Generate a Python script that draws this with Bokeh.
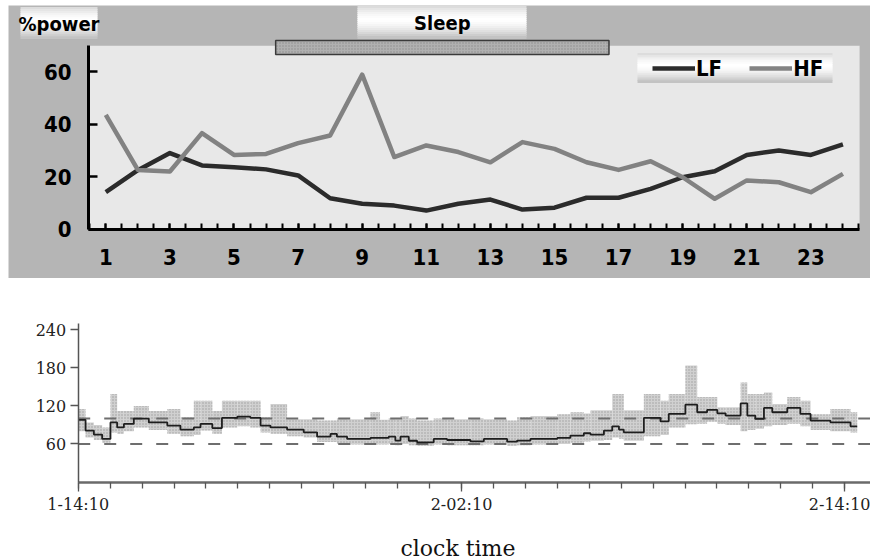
from bokeh.plotting import figure
from bokeh.layouts import column
from bokeh.models import (Range1d, FixedTicker, BoxAnnotation, Label, Legend,
                          LegendItem, ColumnDataSource)
from bokeh.embed import file_html
from bokeh.resources import INLINE

# ---------------- upper panel: %power of LF / HF by hour ----------------
hours = list(range(1, 25))
lf_power = [14.2, 22.6, 29.1, 24.4, 23.7, 22.9, 20.6, 11.9, 9.8, 9.1, 7.2, 9.8,
            11.4, 7.6, 8.3, 12.1, 12.1, 15.5, 19.9, 22.2, 28.4, 30.1, 28.4, 32.4]
hf_power = [43.7, 22.7, 22.1, 36.7, 28.4, 28.8, 32.9, 35.8, 59.0, 27.6, 32.0, 29.5,
            25.6, 33.3, 30.7, 25.6, 22.7, 26.0, 19.9, 11.7, 18.7, 18.0, 14.2, 21.2]
hour_labels = list(range(1, 24, 2))
power_ticks = [0, 20, 40, 60]
sleep_start, sleep_end = 6.3, 16.7

# ---------------- lower panel: heart rate over clock time ----------------
# segment start (hours after 1-14:10), level, lower and upper extent
seg_start = [0.00, 0.23, 0.49, 0.75, 1.01, 1.22, 1.43, 1.74, 2.21, 2.79, 3.20, 3.62,
             3.83, 4.20, 4.50, 4.98, 5.39, 5.71, 6.02, 6.54, 7.06, 7.48, 7.90, 8.10,
             8.42, 9.15, 9.45, 9.72, 9.93, 10.09, 10.35, 10.61, 11.13, 11.55, 12.28,
             12.70, 13.43, 13.74, 14.16, 15.00, 15.41, 15.83, 16.04, 16.46, 16.72,
             16.93, 17.08, 17.71, 18.23, 18.49, 19.01, 19.38, 19.69, 20.01, 20.27,
             20.74, 20.95, 21.20, 21.47, 21.73, 22.20, 22.61, 22.93, 23.55, 24.18]
seg_end = 24.39
hr_level = [98, 81, 74.7, 67.8, 94, 86, 91.5, 100, 94, 89, 82.6, 86,
            91.5, 85, 101, 103, 101, 89, 86, 82.6, 78.3, 71.5, 75.7, 71.5,
            67.8, 69.4, 69.4, 71.5, 65.2, 71.5, 65, 62.5, 67.8, 66.2, 64.1,
            67.8, 63.6, 65.2, 67.8, 69.4, 73.1, 76.8, 74.7, 81, 87.8,
            82.6, 78.3, 101, 95.7, 107.3, 122, 110, 113.6, 108.3, 104.7,
            124, 104.7, 99.4, 116.8, 110, 116.8, 107.3, 96.8, 94.1, 87.8]
hr_low = [80, 70, 66, 62, 78, 76, 80, 86, 82, 76, 72, 74,
          81, 76, 86, 88, 86, 78, 76, 72, 70, 63, 63, 60,
          59, 59, 59, 60, 58, 60, 58, 57, 59, 58, 58,
          59, 57, 58, 59, 60, 62, 64, 65, 66, 70,
          68, 65, 72, 74, 86, 91, 92, 95, 92, 90,
          80, 82, 84, 88, 90, 92, 88, 82, 80, 78]
hr_high = [115, 94, 90, 86, 139, 112, 112, 120, 112, 115, 102, 128,
           128, 112, 128, 128, 128, 102, 123, 99, 99, 97, 97, 100,
           99, 110, 98, 100, 99, 104, 100, 97, 100, 99, 100,
           99, 97, 102, 104, 107, 110, 108, 113, 113, 139,
           139, 113, 139, 128, 139, 184, 134, 134, 118, 118,
           157, 139, 139, 141, 123, 134, 128, 107, 115, 110]
ref_levels = [60, 100]
hr_ticks = [60, 120, 180, 240]
time_ticks = [0, 12, 24]
time_labels = ["1-14:10", "2-02:10", "2-14:10"]

SANS = "DejaVu Sans Condensed, Liberation Sans"
SERIF = "DejaVu Serif"
PANEL_GREY = "#b5b5b5"

# ======================= upper figure =======================
# the frame covers the whole grey panel; axes sit at fixed data positions
X0, X1 = 0.46, 24.52          # extent of the light plotting area
top = figure(width=862, height=273, output_backend="svg", toolbar_location=None,
             x_range=Range1d(-2.036, 24.86), y_range=Range1d(-18.67, 85.33),
             min_border_left=0, min_border_right=0, min_border_top=0,
             min_border_bottom=0, margin=(5, 0, 0, 8))
top.background_fill_color = PANEL_GREY
top.border_fill_color = PANEL_GREY
top.outline_line_color = None
top.grid.visible = False

top.add_layout(BoxAnnotation(left=X0, right=X1, bottom=0, top=70,
                             fill_color="#e8e8e8", fill_alpha=1,
                             line_color=None, level="underlay"))

FL, FB = 8, 278   # frame left / bottom on the page


def bevel_box(fig, x0, y0, x1, y1, n=16):
    """Shaded label plate; corners given in page pixels."""
    h = (y1 - y0) / n
    for i in range(n):
        t = (i + 0.5) / n
        d = abs(t - 0.42) / 0.58
        g = int(round(255 - 66 * d ** 1.6))
        fig.add_layout(BoxAnnotation(
            left=x0 - FL, right=x1 - FL,
            top=FB - (y0 + i * h) + 0.4, bottom=FB - (y0 + (i + 1) * h) - 0.4,
            left_units="screen", right_units="screen",
            top_units="screen", bottom_units="screen",
            fill_color="#%02x%02x%02x" % (g, g, g), fill_alpha=1, line_color=None))


bevel_box(top, 20, 7, 97, 38)
bevel_box(top, 357, 6, 526, 38)
bevel_box(top, 637, 53, 832, 82)

top.add_layout(Label(x=58.5 - FL, y=FB - 23, x_units="screen", y_units="screen",
                     text="%power", text_align="center", text_baseline="middle",
                     text_font=SANS, text_font_style="bold",
                     text_font_size="20px", text_color="black"))
top.add_layout(Label(x=(sleep_start + sleep_end) / 2, y=FB - 22, y_units="screen",
                     text="Sleep", text_align="center", text_baseline="middle",
                     text_font=SANS, text_font_style="bold",
                     text_font_size="20px", text_color="black"))

# sleep period bar
top.quad(left=[sleep_start], right=[sleep_end], bottom=[66.7], top=[72.0],
         fill_color="#b0b0b0", line_color="#3a3a3a", line_width=1.5,
         hatch_pattern="dot", hatch_color="#8c8c8c", hatch_scale=3, hatch_weight=1)

src = ColumnDataSource(dict(h=hours, lf=lf_power, hf=hf_power))
r_lf = top.line("h", "lf", source=src, line_color="#2b2b2b", line_width=4.5,
                line_join="round")
r_hf = top.line("h", "hf", source=src, line_color="#828282", line_width=4.5,
                line_join="round")

legend = Legend(items=[LegendItem(label="LF", renderers=[r_lf]),
                       LegendItem(label="HF", renderers=[r_hf])],
                orientation="horizontal", location=(652 - FL, FB - 81),
                background_fill_alpha=0, border_line_color=None,
                padding=0, margin=0, spacing=27, glyph_width=43, glyph_height=26,
                label_standoff=1, label_height=26,
                label_text_font=SANS, label_text_font_style="bold",
                label_text_font_size="22px", label_text_color="black")
top.add_layout(legend)

xa = top.xaxis[0]
xa.fixed_location = 0
xa.bounds = (X0, X1)
xa.ticker = FixedTicker(ticks=hour_labels,
                        minor_ticks=[0.5 * k for k in range(1, 50)])
xa.axis_line_width = 3
xa.axis_line_color = "black"
xa.major_tick_in = 6
xa.major_tick_out = 0
xa.minor_tick_in = 6
xa.minor_tick_out = 0
xa.major_tick_line_width = 2
xa.minor_tick_line_width = 2
xa.major_label_standoff = 20
xa.major_label_text_font = SANS
xa.major_label_text_font_style = "bold"
xa.major_label_text_font_size = "22px"
xa.major_label_text_color = "black"

ya = top.yaxis[0]
ya.fixed_location = X0
ya.bounds = (0, 70)
ya.ticker = FixedTicker(ticks=power_ticks)
ya.axis_line_width = 3
ya.axis_line_color = "black"
ya.major_tick_in = 9
ya.major_tick_out = 0
ya.major_tick_line_width = 2.5
ya.minor_tick_line_color = None
ya.major_label_standoff = 17
ya.major_label_text_font = SANS
ya.major_label_text_font_style = "bold"
ya.major_label_text_font_size = "22px"
ya.major_label_text_color = "black"

# ======================= lower figure =======================
T_END = 24.806
bot = figure(width=870, height=282, output_backend="svg", toolbar_location=None,
             x_range=Range1d(-2.433, T_END), y_range=Range1d(-124.1, 321.2),
             min_border_left=0, min_border_right=0, min_border_top=0,
             min_border_bottom=0)
bot.outline_line_color = None
bot.grid.visible = False
bot.background_fill_color = "white"
bot.border_fill_color = "white"

seg_right = seg_start[1:] + [seg_end]
band = ColumnDataSource(dict(l=seg_start, r=seg_right, lo=hr_low, hi=hr_high))
bot.quad(left="l", right="r", bottom="lo", top="hi", source=band,
         fill_color="#d0d0d0", line_color=None,
         hatch_pattern="dot", hatch_color="#9c9c9c", hatch_scale=3, hatch_weight=1)

# reference levels, dashed from the y axis to the right edge
bot.segment(x0=[0] * len(ref_levels), x1=[T_END] * len(ref_levels),
            y0=ref_levels, y1=ref_levels, line_color="#6e6e6e",
            line_width=2, line_dash="12 14")

bot.step(seg_start + [seg_end], hr_level + [hr_level[-1]], mode="after",
         line_color="#1e1e1e", line_width=1.8)

bx = bot.xaxis[0]
bx.fixed_location = -1.5
bx.bounds = (0, T_END)
bx.ticker = FixedTicker(ticks=time_ticks, minor_ticks=list(range(0, 25)))
bx.major_label_overrides = {t: s for t, s in zip(time_ticks, time_labels)}
bx.axis_line_color = "#6a6a6a"
bx.axis_line_width = 2.5
bx.major_tick_in = 0
bx.major_tick_out = 9
bx.minor_tick_in = 0
bx.minor_tick_out = 6
bx.major_tick_line_color = "#555555"
bx.minor_tick_line_color = "#555555"
bx.major_tick_line_width = 1.3
bx.minor_tick_line_width = 1.3
bx.major_label_standoff = 3
bx.major_label_text_font = SERIF
bx.major_label_text_font_size = "16px"
bx.major_label_text_color = "#222222"

by = bot.yaxis[0]
by.fixed_location = 0
by.bounds = (-1.5, 250)
by.ticker = FixedTicker(ticks=hr_ticks)
by.axis_line_color = "#555555"
by.axis_line_width = 1.5
by.major_tick_in = 0
by.major_tick_out = 8
by.major_tick_line_color = "#555555"
by.major_tick_line_width = 1.3
by.minor_tick_line_color = None
by.major_label_standoff = 4
by.major_label_text_font = SERIF
by.major_label_text_font_size = "16px"
by.major_label_text_color = "#222222"

bot.add_layout(Label(x=12, y=-105, text="clock  time",
                     text_align="center", text_baseline="middle",
                     text_font=SERIF, text_font_size="22px",
                     text_color="#111111"))

page = column(top, bot, spacing=0)
open("out.html", "w").write(file_html(page, INLINE))
